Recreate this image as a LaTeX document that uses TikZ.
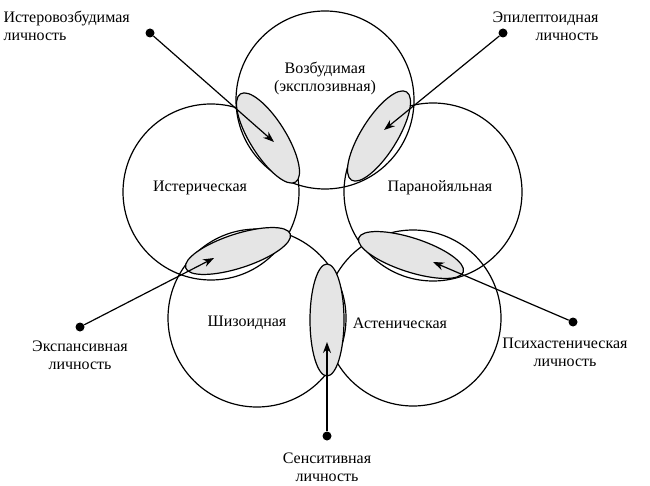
\documentclass[tikz,border=0pt]{standalone}
\usepackage{fontspec}
\setmainfont{Liberation Serif}
\usetikzlibrary{arrows.meta}
\begin{document}
\begin{tikzpicture}[x=1pt,y=-1pt,
  circ/.style={draw,line width=1.2pt},
  zone/.style={draw,line width=1.2pt,fill=gray!20},
  lab/.style={font=\fontsize{16}{18}\selectfont,align=center},
  dotp/.style={circle,fill=black,inner sep=0pt,minimum size=9pt},
  arr/.style={line width=1.2pt,-{Stealth[length=11pt,width=8pt]}}]
\useasboundingbox (0,0) rectangle (650,486);
\draw[circ] (325,100) circle (89);
\draw[circ] (211,192) circle (88);
\draw[circ] (433,192) circle (89);
\draw[circ] (257,318) circle (89);
\draw[circ] (413,318) circle (88);
\draw[zone] (268,138) ellipse[x radius=52,y radius=18,rotate=-58];
\draw[zone] (379,136) ellipse[x radius=52,y radius=18,rotate=58];
\draw[zone] (238,251) ellipse[x radius=55,y radius=17,rotate=18];
\draw[zone] (411,255) ellipse[x radius=55,y radius=17,rotate=-18];
\draw[zone] (327,320) ellipse[x radius=17,y radius=56];
\node[lab] (t) at (325,78) {Возбудимая\\(эксплозивная)};
\node[lab] (l) at (200,188) {Истерическая};
\node[lab] (r) at (440,188) {Паранойяльная};
\node[lab] (bl) at (247,323) {Шизоидная};
\node[lab] (br) at (400,323) {Астеническая};
\node[dotp] (d1) at (150,33) {};
\node[dotp] (d2) at (503,33) {};
\node[dotp] (d3) at (80,327) {};
\node[dotp] (d4) at (573,322) {};
\node[dotp] (d5) at (327,436) {};
\coordinate (e1) at (274,142);
\coordinate (e2) at (384,130);
\coordinate (e3) at (214,258);
\coordinate (e4) at (433,262);
\coordinate (e5) at (327,342);
\draw[arr] (d1) -- (e1);
\draw[arr] (d2) -- (e2);
\draw[arr] (d3) -- (e3);
\draw[arr] (d4) -- (e4);
\draw[arr] (d5) -- (e5);
\node[lab,align=left,anchor=west] (n1) at (0,26) {Истеровозбудимая\\личность};
\node[lab,align=right,anchor=east] (n2) at (602,26) {Эпилептоидная\\личность};
\node[lab] (n3) at (80,355) {Экспансивная\\личность};
\node[lab] (n4) at (565,352) {Психастеническая\\личность};
\node[lab] (n5) at (327,467) {Сенситивная\\личность};
\end{tikzpicture}
\end{document}
